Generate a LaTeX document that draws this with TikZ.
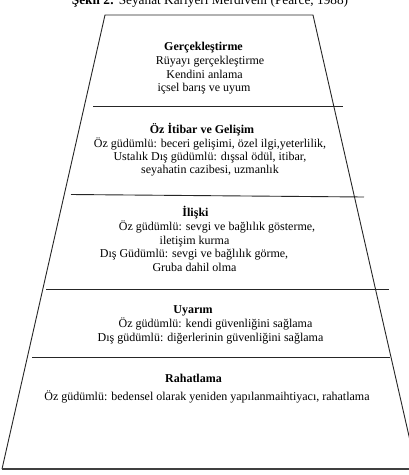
\documentclass[tikz,border=0pt]{standalone}
\usepackage{fontspec}
\setmainfont{Liberation Serif}
\begin{document}
\begin{tikzpicture}[x=1pt,y=-1pt,
  edge/.style={line width=0.9pt, draw=black!85},
  txt/.style={inner sep=0pt, anchor=mid, font=\fontsize{12}{14}\selectfont},
  head/.style={txt, font=\fontsize{12}{14}\selectfont\bfseries}]
\useasboundingbox (0,0) rectangle (409,475);
\clip (0,0) rectangle (409,475);
\fill[white] (0,0) rectangle (409,475);
% title (clipped at top)
\node[inner sep=0pt, anchor=base, font=\fontsize{13.3}{15}\selectfont] (title) at (210,4.5) {\textbf{Şekil 2:} Seyahat Kariyeri Merdiveni (Pearce, 1988)};
% trapezoid
\coordinate (tl) at (105,15);
\coordinate (tr) at (313,15);
\coordinate (bl) at (2,469);
\coordinate (br) at (416.5,469);
\draw[edge] (bl) -- (tl) -- (tr) -- (br);
\draw[edge, line width=1.1pt, draw=black!75] (bl) -- (br);
% dividers
\draw[edge] (93,106) -- (343,106);
\draw[edge] (71,194.5) -- (364,197);
\draw[edge] (46,289) -- (389,289);
\draw[edge] (32,357) -- (390,357);
% block 1
\node[head] (g1) at (203.5,48) {Gerçekleştirme};
\node[txt] (g2) at (210,62.5) {Rüyayı gerçekleştirme};
\node[txt] (g3) at (204.5,76) {Kendini anlama};
\node[txt] (g4) at (204,89.5) {içsel barış ve uyum};
% block 2
\node[head] (o1) at (202,131.5) {Öz İtibar ve Gelişim};
\node[txt] (o2) at (210,145) {Öz güdümlü: beceri gelişimi, özel ilgi,yeterlilik,};
\node[txt] (o3) at (210,158) {Ustalık Dış güdümlü: dışsal ödül, itibar,};
\node[txt] (o4) at (210,171.5) {seyahatin cazibesi, uzmanlık};
% block 3
\node[head] (i1) at (195.5,214.5) {İlişki};
\node[txt] (i2) at (217,228.5) {Öz güdümlü: sevgi ve bağlılık gösterme,};
\node[txt] (i3) at (194.5,242) {iletişim kurma};
\node[txt] (i4) at (194,255) {Dış Güdümlü: sevgi ve bağlılık görme,};
\node[txt] (i5) at (194.5,269.5) {Gruba dahil olma};
% block 4
\node[head] (u1) at (193,311.5) {Uyarım};
\node[txt] (u2) at (215.5,325) {Öz güdümlü: kendi güvenliğini sağlama};
\node[txt] (u3) at (210.5,339) {Dış güdümlü: diğerlerinin güvenliğini sağlama};
% block 5
\node[head] (r1) at (193.5,380) {Rahatlama};
\node[txt] (r2) at (207,398) {Öz güdümlü: bedensel olarak yeniden yapılanmaihtiyacı, rahatlama};
\end{tikzpicture}
\end{document}
